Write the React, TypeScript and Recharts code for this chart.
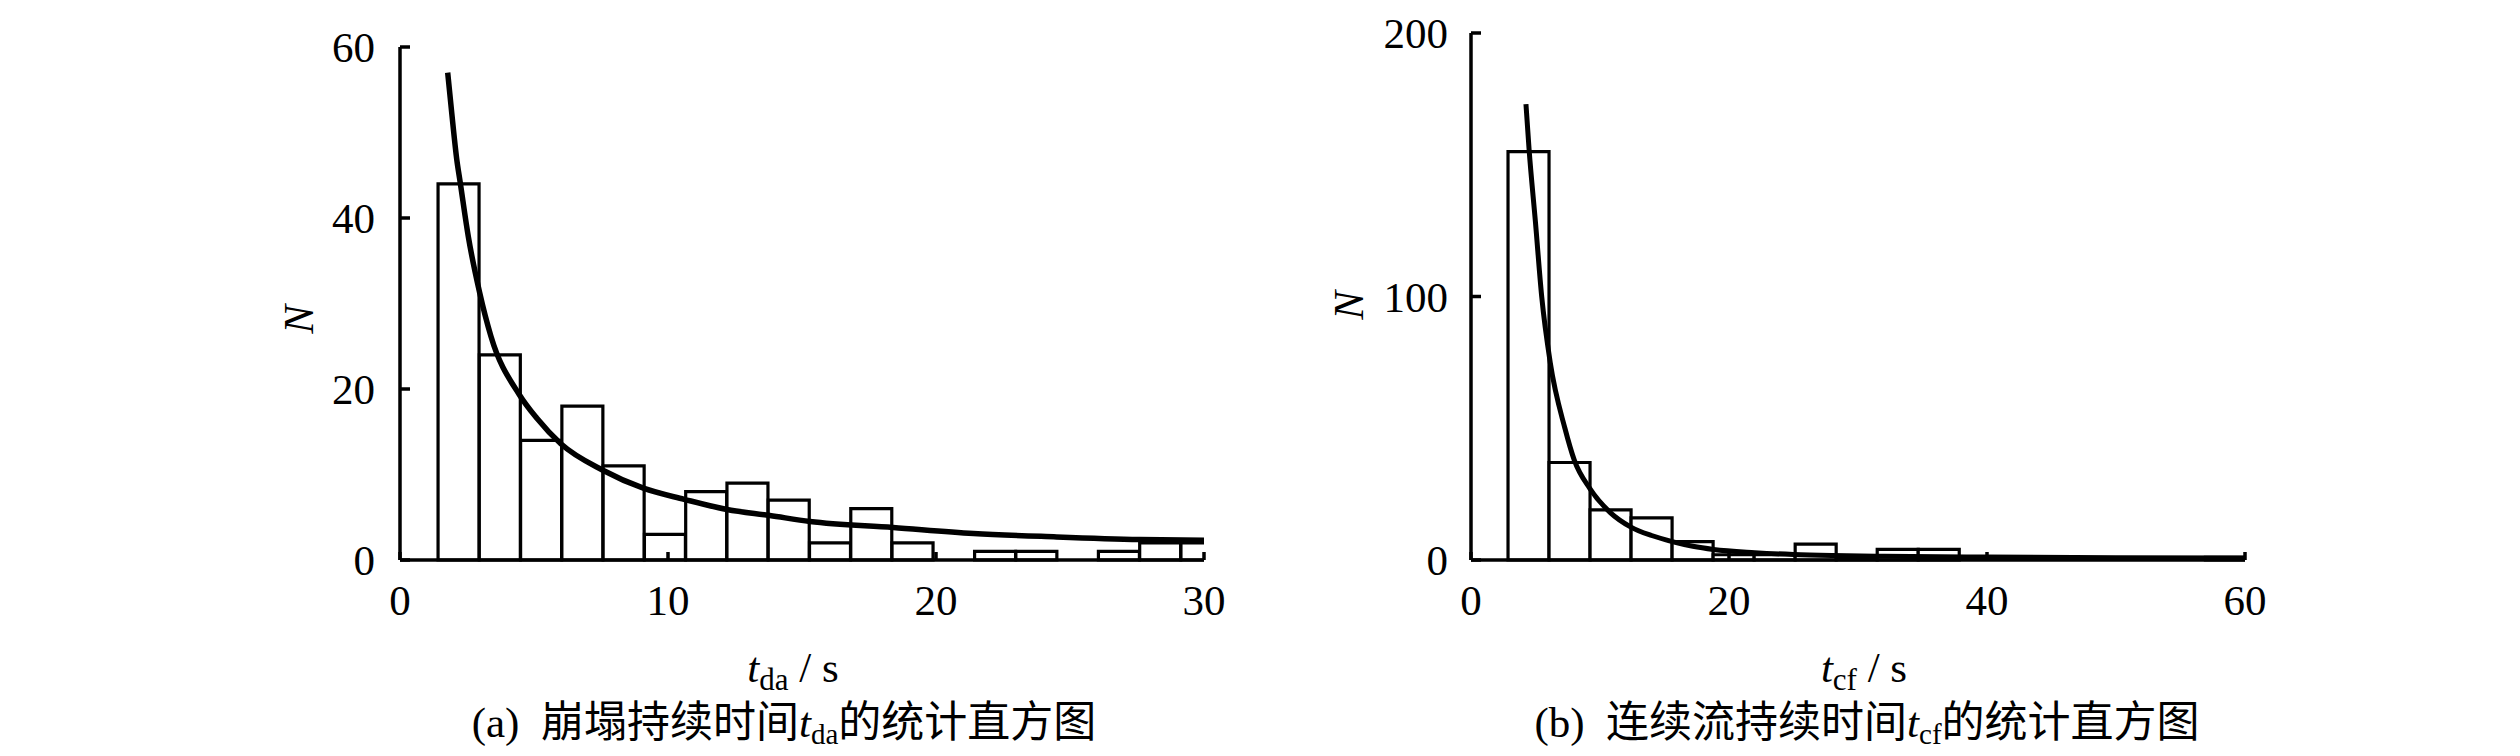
import React from 'react'
import { ComposedChart, Bar, Line, XAxis, YAxis, Label } from 'recharts'

const SERIF = "'Liberation Serif', 'Times New Roman', serif"
const CAPTION_FONT = "'Liberation Serif', 'Noto Sans CJK SC', serif"

// (a) collapse duration t_da — bin centres (s) and counts
const daBinMid = [2.19, 3.73, 5.27, 6.81, 8.35, 9.89, 11.43, 12.97, 14.51, 16.05, 17.59, 19.13, 20.67, 22.21, 23.75, 25.29, 26.83, 28.37, 29.91]
const daCount = [44, 24, 14, 18, 11, 3, 8, 9, 7, 2, 6, 2, 0, 1, 1, 0, 1, 2, 2]
// fitted curve
const daFitT = [1.78, 1.93, 2.12, 2.24, 2.55, 2.97, 3.39, 4.46, 5.1, 6.0, 7.57, 9.08, 10.6, 12.2, 13.8, 15.3, 18.4, 21.4, 24.5, 27.6, 30]
const daFitN = [57, 52.3, 46.8, 44.3, 37.8, 31.3, 26.2, 19.3, 16.6, 13.6, 10.5, 8.4, 7.1, 5.9, 5.2, 4.5, 3.8, 3.1, 2.7, 2.4, 2.3]
const daXTicks = [0, 10, 20, 30]
const daYTicks = [0, 20, 40, 60]

// (b) continuous-flow duration t_cf
const cfBinMid = [4.46, 7.64, 10.82, 14.0, 17.18, 20.36, 23.54, 26.72, 29.9, 33.08, 36.26, 39.44, 42.62, 45.8, 48.98, 52.16, 55.34, 58.52]
const cfCount = [155, 37, 19, 16, 7, 2, 2, 6, 1, 4, 4, 0, 0, 0, 0, 0, 0, 1]
const cfFitT = [4.26, 4.5, 5.0, 5.48, 6.14, 7.28, 8.0, 9.23, 10.8, 12.4, 14.0, 15.6, 17.2, 18.8, 22, 25, 28, 32, 40, 50, 60]
const cfFitN = [173, 156, 128, 100, 75, 50, 38, 27, 18, 12.5, 9.3, 7, 5.2, 4, 2.8, 2.1, 1.7, 1.4, 1.1, 0.9, 0.8]
const cfXTicks = [0, 20, 40, 60]
const cfYTicks = [0, 100, 200]

const bins = (mid: number[], count: number[]) => mid.map((m, i) => ({ mid: m, n: count[i] }))
const fit = (t: number[], n: number[]) => t.map((v, i) => ({ t: v, n: n[i] }))

const axisLine = { stroke: '#000', strokeWidth: 3.5 }
const tickStyle = { fill: '#000', fontSize: 43, fontFamily: SERIF }

function NLabel({ viewBox, dx, dy }: any) {
  const cx = viewBox.x + dx
  const cy = viewBox.y + viewBox.height / 2 + dy
  return (
    <text
      x={cx}
      y={cy}
      transform={`rotate(-90 ${cx} ${cy})`}
      textAnchor="middle"
      dominantBaseline="central"
      fontFamily={SERIF}
      fontStyle="italic"
      fontSize={43}
      fill="#000"
    >
      N
    </text>
  )
}

function XTitle({ viewBox, sub }: any) {
  return (
    <text x={viewBox.x + 393} y={viewBox.y + 122} textAnchor="middle" fontFamily={SERIF} fontSize={43} fill="#000">
      <tspan fontStyle="italic">t</tspan>
      <tspan fontSize={31} dy={8}>{sub}</tspan>
      <tspan dy={-8}>{' / s'}</tspan>
    </text>
  )
}

interface HistProps {
  left: number
  margin: { top: number; right: number; bottom: number; left: number }
  data: { mid: number; n: number }[]
  curve: { t: number; n: number }[]
  xMax: number
  yMax: number
  xTicks: number[]
  yTicks: number[]
  sub: string
  nDx: number
  nDy: number
  yTickMargin: number
  curveWidth: number
}

function Histogram(p: HistProps) {
  return (
    <div style={{ position: 'absolute', left: p.left, top: 0 }}>
      <ComposedChart width={1260} height={700} data={p.data} margin={p.margin} barCategoryGap={0} barGap={0}>
        <XAxis
          xAxisId="bins"
          type="number"
          dataKey="mid"
          domain={[0, p.xMax]}
          ticks={p.xTicks}
          allowDataOverflow
          height={140}
          axisLine={axisLine}
          tickLine={axisLine}
          tickSize={-8}
          tickMargin={32}
          tick={tickStyle}
        >
          <Label content={(lp: any) => <XTitle viewBox={lp.viewBox} sub={p.sub} />} />
        </XAxis>
        <XAxis xAxisId="fit" type="number" dataKey="t" domain={[0, p.xMax]} allowDataOverflow hide />
        <YAxis
          type="number"
          domain={[0, p.yMax]}
          ticks={p.yTicks}
          width={120}
          axisLine={axisLine}
          tickLine={axisLine}
          tickSize={-10}
          tickMargin={p.yTickMargin}
          tick={tickStyle}
        >
          <Label content={(lp: any) => <NLabel viewBox={lp.viewBox} dx={p.nDx} dy={p.nDy} />} />
        </YAxis>
        <Bar xAxisId="bins" dataKey="n" fill="#fff" stroke="#000" strokeWidth={3.2} isAnimationActive={false} />
        <Line
          xAxisId="fit"
          data={p.curve}
          dataKey="n"
          type="monotone"
          stroke="#000"
          strokeWidth={p.curveWidth}
          dot={false}
          activeDot={false}
          isAnimationActive={false}
        />
      </ComposedChart>
    </div>
  )
}

function Caption({ x, tag, before, sub, after }: any) {
  return (
    <text x={x} y={737} textAnchor="middle" fontFamily={CAPTION_FONT} fontSize={43} fill="#000">
      <tspan>{tag + '\u00a0\u00a0' + before}</tspan>
      <tspan fontStyle="italic" fontFamily={SERIF}>t</tspan>
      <tspan fontSize={29} dy={7} fontFamily={SERIF}>{sub}</tspan>
      <tspan dy={-7}>{after}</tspan>
    </text>
  )
}

export default function App() {
  return (
    <div style={{ position: 'absolute', left: 0, top: 0, width: 2520, height: 756, background: '#fff', overflow: 'hidden' }}>
      <Histogram
        left={0}
        margin={{ top: 47, right: 56, bottom: 0, left: 280 }}
        data={bins(daBinMid, daCount)}
        curve={fit(daFitT, daFitN)}
        xMax={30}
        yMax={60}
        xTicks={daXTicks}
        yTicks={daYTicks}
        sub="da"
        nDx={18}
        nDy={16}
        yTickMargin={35}
        curveWidth={5.5}
      />
      <Histogram
        left={1260}
        margin={{ top: 33, right: 275, bottom: 0, left: 91 }}
        data={bins(cfBinMid, cfCount)}
        curve={fit(cfFitT, cfFitN)}
        xMax={60}
        yMax={200}
        xTicks={cfXTicks}
        yTicks={cfYTicks}
        sub="cf"
        nDx={-3}
        nDy={9}
        yTickMargin={33}
        curveWidth={5}
      />
      <svg width={2520} height={756} style={{ position: 'absolute', left: 0, top: 0, pointerEvents: 'none' }}>
        <Caption x={784} tag="(a)" before="崩塌持续时间" sub="da" after="的统计直方图" />
        <Caption x={1867} tag="(b)" before="连续流持续时间" sub="cf" after="的统计直方图" />
      </svg>
    </div>
  )
}
